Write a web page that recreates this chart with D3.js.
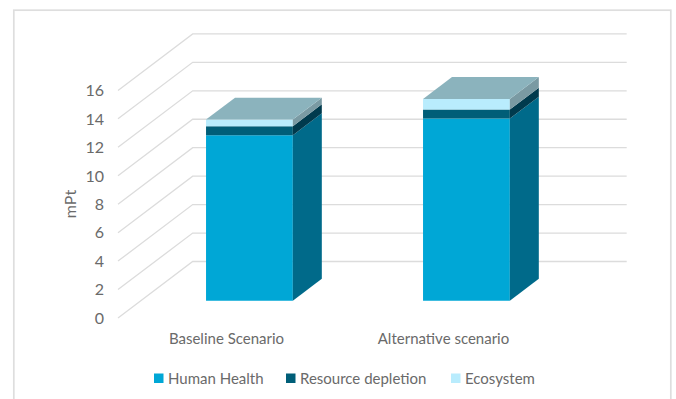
<!DOCTYPE html>
<html><head><meta charset="utf-8">
<script src="https://cdn.jsdelivr.net/npm/d3@7/dist/d3.min.js"></script>
<style>html,body{margin:0;padding:0;background:#fff}svg{display:block}text{font-family:Lato,"Open Sans",sans-serif;fill:#6a6a6a}</style>
</head><body><svg id="c" width="676" height="399"></svg>
<script>
const categories = ["Baseline Scenario", "Alternative scenario"];
const seriesNames = ["Human Health", "Resource depletion", "Ecosystem"];
const humanHealth = [11.63, 12.8];
const resourceDepletion = [0.63, 0.63];
const ecosystem = [0.47, 0.75];
const tickValues = [0, 2, 4, 6, 8, 10, 12, 14, 16];
const frontColors = ["#00a7d6", "#005e78", "#b9ecfd"];
const sideColors = ["#006a8a", "#003a4d", "#7a9aa3"];
const topColor = "#8bb3bd";

const svg = d3.select("#c");
const y = d3.scaleLinear().domain([0, 16]).range([318, 90.4]);
const x = d3.scaleBand().domain(categories).range([118, 552]).paddingInner(0.6).paddingOuter(0.3);
const depthDx = 74.7, depthDy = -56.5;
const px = (cx, d) => cx + d * depthDx;
const py = (cy, d) => cy + d * depthDy;
const barFront = 0.307, barBack = 0.695;

// frame (bottom edge runs off the page)
svg.append("rect").attr("x", 13.8).attr("y", 10.2).attr("width", 657).attr("height", 400)
  .attr("fill", "none").attr("stroke", "#dedede").attr("stroke-width", 1.7);

// gridlines with receding wall
const line = d3.line();
svg.append("g").selectAll("path").data(tickValues).join("path")
  .attr("d", v => line([[x.range()[0], y(v)], [px(x.range()[0], 1), py(y(v), 1)], [px(x.range()[1], 1), py(y(v), 1)]]))
  .attr("fill", "none").attr("stroke", "#dcdcdc").attr("stroke-width", 1.3);

// tick labels
svg.append("g").selectAll("text").data(tickValues).join("text")
  .attr("x", 104).attr("y", v => y(v)).attr("dy", "0.36em").attr("text-anchor", "end")
  .attr("font-size", 16).text(d => d);

// y title
svg.append("text").attr("transform", "translate(76,204) rotate(-90)").attr("text-anchor", "middle")
  .attr("font-size", 16).text("mPt");

// stacked 3D bars
const stackData = categories.map((c, i) => ({ c, a: humanHealth[i], b: resourceDepletion[i], e: ecosystem[i] }));
const stack = d3.stack().keys(["a", "b", "e"])(stackData);
const poly = pts => line(pts) + "Z";
stack.forEach((layer, si) => {
  const g = svg.append("g");
  layer.forEach((seg, i) => {
    const x0 = x(categories[i]), x1 = x0 + x.bandwidth();
    const y0 = y(seg[0]), y1 = y(seg[1]);
    g.append("path").attr("fill", frontColors[si]).attr("d", poly([
      [px(x0, barFront), py(y0, barFront)], [px(x1, barFront), py(y0, barFront)],
      [px(x1, barFront), py(y1, barFront)], [px(x0, barFront), py(y1, barFront)]]));
    g.append("path").attr("fill", sideColors[si]).attr("d", poly([
      [px(x1, barFront), py(y0, barFront)], [px(x1, barBack), py(y0, barBack)],
      [px(x1, barBack), py(y1, barBack)], [px(x1, barFront), py(y1, barFront)]]));
    if (si === stack.length - 1) {
      g.append("path").attr("fill", topColor).attr("d", poly([
        [px(x0, barFront), py(y1, barFront)], [px(x1, barFront), py(y1, barFront)],
        [px(x1, barBack), py(y1, barBack)], [px(x0, barBack), py(y1, barBack)]]));
    }
  });
});

// category labels
svg.append("g").selectAll("text").data(categories).join("text")
  .attr("x", c => x(c) + x.bandwidth() / 2).attr("y", 344).attr("text-anchor", "middle")
  .attr("font-size", 15).text(d => d);

// legend
const legendX = [154, 286, 451];
const legend = svg.append("g").selectAll("g").data(seriesNames).join("g")
  .attr("transform", (d, i) => `translate(${legendX[i]},373.5)`);
legend.append("rect").attr("width", 9.5).attr("height", 9.5).attr("fill", (d, i) => frontColors[i]);
legend.append("text").attr("x", 14).attr("y", 10).attr("font-size", 15).text(d => d);
</script></body></html>
